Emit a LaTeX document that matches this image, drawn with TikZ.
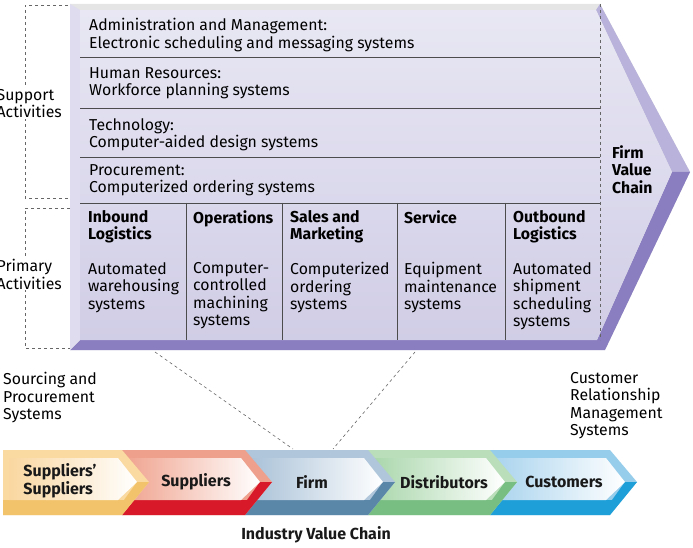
\documentclass[tikz,border=0pt]{standalone}
\usepackage{fontspec}
\setmainfont{Fira Sans}
\begin{document}
\begin{tikzpicture}[x=1pt,y=-1pt,
  body/.style={font=\fontsize{15.8}{17.5}\selectfont, align=left, anchor=north west, inner sep=0pt},
  head/.style={body, font=\fontsize{15.8}{17.5}\selectfont\bfseries},
  chain/.style={font=\fontsize{16}{18}\selectfont\bfseries, align=left, text=black!90, inner sep=0pt},
  dline/.style={dashed, draw=black!60, line width=0.6pt},
  sep/.style={draw=black!70, line width=0.6pt}]
\useasboundingbox (0,0) rectangle (693,548);
% big arrow
\fill[color=black!10] (70,4) -- (600,4) -- (690,172) -- (605,350) -- (70,350) -- cycle;
\fill[color={rgb,255:red,185;green,179;blue,219}] (600,4) -- (690,172) -- (672,172) -- (596,10) -- cycle;
\fill[color={rgb,255:red,138;green,125;blue,192}] (690,172) -- (605,350) -- (70,350) -- (80,340) -- (597,340) -- (672,172) -- cycle;
\fill[color={rgb,255:red,222;green,220;blue,238}] (70,4) -- (80,10) -- (80,340) -- (70,350) -- cycle;
\shade[top color={rgb,255:red,232;green,231;blue,243}, bottom color={rgb,255:red,208;green,205;blue,230}] (80,10) -- (596,10) -- (672,172) -- (597,340) -- (80,340) -- cycle;
\draw[sep] (80,57) -- (600,57) (80,108) -- (600,108) (80,157) -- (600,157) (80,203) -- (600,203);
\draw[sep] (186,203) -- (186,340) (282,203) -- (282,340) (397,203) -- (397,340) (505,203) -- (505,340);
\draw[dline] (600,4) -- (600,340);
\node[body] (adm) at (89,18) {Administration and Management:\\Electronic scheduling and messaging systems};
\node[body] (hr) at (89,67) {Human Resources:\\Workforce planning systems};
\node[body] (tec) at (89,118) {Technology:\\Computer-aided design systems};
\node[body] (pro) at (89,164) {Procurement:\\Computerized ordering systems};
\node[head] (h1) at (88,210) {Inbound\\Logistics};
\node[head] (h2) at (193,210) {Operations};
\node[head] (h3) at (290,210) {Sales and\\Marketing};
\node[head] (h4) at (404,210) {Service};
\node[head] (h5) at (513,210) {Outbound\\Logistics};
\node[body] (t1) at (88,262) {Automated\\warehousing\\systems};
\node[body] (t2) at (193,262) {Computer-\\controlled\\machining\\systems};
\node[body] (t3) at (290,262) {Computerized\\ordering\\systems};
\node[body] (t4) at (404,262) {Equipment\\maintenance\\systems};
\node[body] (t5) at (513,262) {Automated\\shipment\\scheduling\\systems};
\node[head] (fvc) at (612,145) {Firm\\Value\\Chain};
% brackets
\draw[dline] (68,5) -- (25,5) -- (25,198) -- (70,198);
\draw[dline] (70,208) -- (25,208) -- (25,348) -- (70,348);
\node[body, anchor=north east, fill=white, inner sep=1pt] (sup) at (63,88) {Support\\Activities};
\node[body, anchor=north east, fill=white, inner sep=1pt] (pri) at (63,258) {Primary\\Activities};
% side texts
\node[body] (src) at (3,372) {Sourcing and\\Procurement\\Systems};
\node[body] (crm) at (570,372) {Customer\\Relationship\\Management\\Systems};
% chain
\newcommand{\seg}[5]{% x0 x1 outer bottom inner
  \fill[color=#4] (#1,450) -- (#2,450) -- (#2+27,482) -- (#2,515) -- (#1,515) -- cycle;
  \fill[color=#3] (#1,500) -- (#2+2,500) -- (#2+15,482) -- (#2+27,482) -- (#2,515) -- (#1,515) -- cycle;
  \shade[left color=#5, right color=white] (#1+6,458) -- (#2-4,458) -- (#2+15,482) -- (#2-4,500) -- (#1+6,500) -- cycle;}
\seg{490}{610}{{rgb,255:red,30;green,159;blue,216}}{{rgb,255:red,150;green,205;blue,235}}{{rgb,255:red,170;green,212;blue,238}}
\seg{368}{490}{{rgb,255:red,120;green,190;blue,130}}{{rgb,255:red,185;green,222;blue,185}}{{rgb,255:red,170;green,215;blue,172}}
\seg{245}{368}{{rgb,255:red,90;green,134;blue,168}}{{rgb,255:red,176;green,198;blue,218}}{{rgb,255:red,170;green,194;blue,216}}
\seg{122}{245}{{rgb,255:red,215;green,25;blue,42}}{{rgb,255:red,238;green,160;blue,140}}{{rgb,255:red,240;green,165;blue,145}}
\seg{3}{122}{{rgb,255:red,242;green,195;blue,107}}{{rgb,255:red,250;green,218;blue,160}}{{rgb,255:red,250;green,215;blue,160}}
\node[chain] (ss) at (60,481) {Suppliers'\\Suppliers};
\node[chain] (s) at (196,482) {Suppliers};
\node[chain] (f) at (312,482) {Firm};
\node[chain] (d) at (444,482) {Distributors};
\node[chain] (c) at (564,482) {Customers};
\node[chain] (ivc) at (316,535) {Industry Value Chain};
\coordinate (fl) at (155,352); \coordinate (fr) at (415,352);
\coordinate (bl) at (293,449); \coordinate (br) at (333,449);
\draw[dline] (fl) -- (bl) (fr) -- (br);
\end{tikzpicture}
\end{document}
